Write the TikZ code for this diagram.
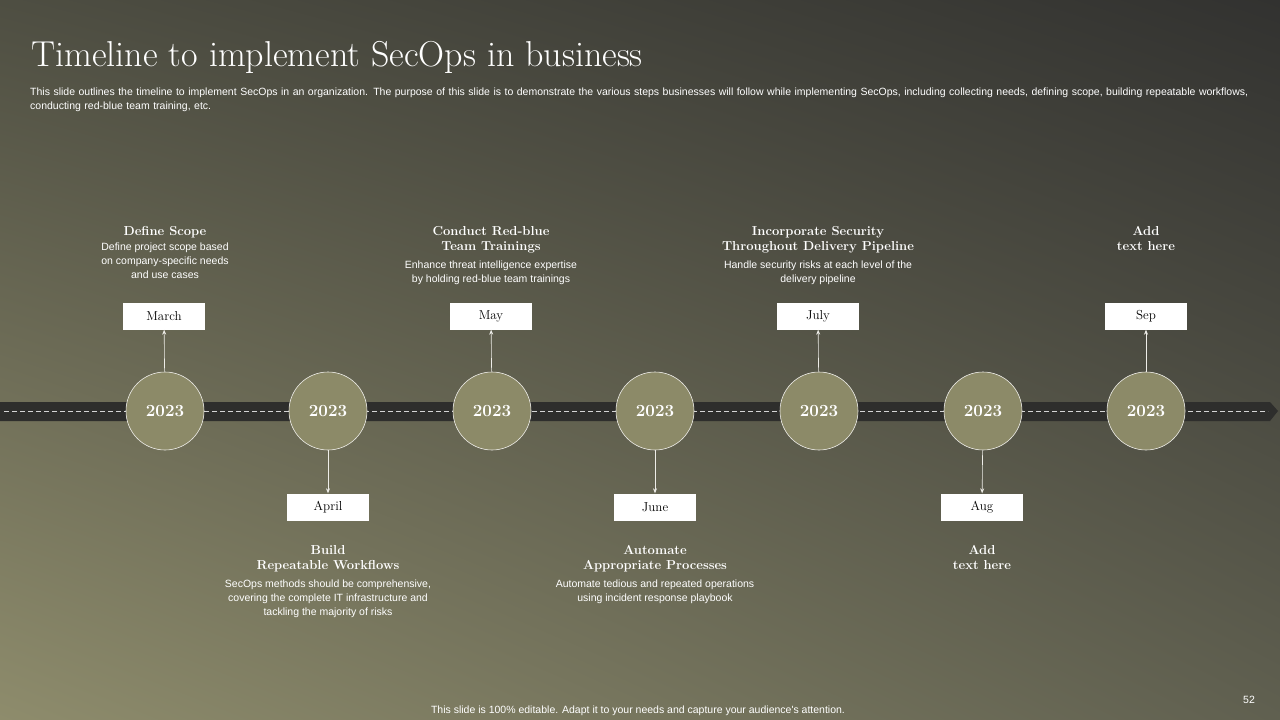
\documentclass[tikz,border=0pt]{standalone}
\usepackage{fontspec}
\newfontfamily\sans{Liberation Sans}
\usetikzlibrary{arrows.meta,shadings}
\definecolor{circ}{HTML}{8C8A68}
\definecolor{bar}{HTML}{2E2E2C}
\definecolor{bgul}{RGB}{78,78,66}
\definecolor{bgur}{RGB}{50,50,48}
\definecolor{bgll}{RGB}{142,140,108}
\definecolor{bglr}{RGB}{96,96,80}
\tikzset{
 yr/.style={circle,draw=white!85!circ,line width=0.6pt,fill=circ,minimum size=78pt,inner sep=0pt,text=white,font=\fontsize{17}{17}\selectfont\bfseries},
 mbox/.style={fill=white,minimum width=82pt,minimum height=27pt,inner sep=0pt,font=\fontsize{13}{13}\selectfont},
 head/.style={text=white,align=center,font=\fontsize{13}{15}\selectfont\bfseries},
 body/.style={text=white,align=center,font=\sans\fontsize{10.5}{14}\selectfont},
 conn/.style={draw=white!85!circ,line width=0.6pt,-{Stealth[length=5pt,width=4pt]}}
}
\begin{document}
\begin{tikzpicture}[x=1pt,y=-1pt]
\useasboundingbox (0,0) rectangle (1280,720);
\shade[upper left=bgul,upper right=bgur,lower left=bgll,lower right=bglr] (0,0) rectangle (1280,720);
\node[anchor=west,text=white,font=\fontsize{36}{36}\selectfont] (title) at (28,57) {Timeline to implement SecOps in business};
\node[anchor=north west,text=white,align=left,text width=1230pt,inner sep=0pt,font=\sans\fontsize{10.5}{14}\selectfont] (sub) at (30,88) {This slide outlines the timeline to implement SecOps in an organization. The purpose of this slide is to demonstrate the various steps businesses will follow while implementing SecOps, including collecting needs, defining scope, building repeatable workflows, conducting red-blue team training, etc.};
\fill[bar] (0,402) -- (1270,402) -- (1278,411) -- (1270,421) -- (0,421) -- cycle;
\draw[white!80!bar,dash pattern=on 5pt off 3pt,line width=0.7pt] (4,411) -- (1268,411);
\foreach \i/\x in {1/165,2/328,3/492,4/655,5/819,6/983,7/1146} {\node[yr] (c\i) at (\x,411) {2023};}
\node[mbox] (m1) at (164,316) {March};
\node[mbox] (m3) at (491,316) {May};
\node[mbox] (m5) at (818,316) {July};
\node[mbox] (m7) at (1146,316) {Sep};
\node[mbox] (m2) at (328,507) {April};
\node[mbox] (m4) at (655,507) {June};
\node[mbox] (m6) at (982,507) {Aug};
\foreach \i in {1,...,7} {\draw[conn] (c\i) -- (m\i);}
\node[head,anchor=north] (h1) at (165,223) {Define Scope};
\node[body,anchor=north] (b1) at (165,239) {Define project scope based\\on company-specific needs\\and use cases};
\node[head,anchor=north] (h3) at (491,223) {Conduct Red-blue\\Team Trainings};
\node[body,anchor=north] (b3) at (491,257) {Enhance threat intelligence expertise\\by holding red-blue team trainings};
\node[head,anchor=north] (h5) at (818,223) {Incorporate Security\\Throughout Delivery Pipeline};
\node[body,anchor=north] (b5) at (818,257) {Handle security risks at each level of the\\delivery pipeline};
\node[head,anchor=north] (h7) at (1146,223) {Add\\text here};
\node[head,anchor=north] (h2) at (328,542) {Build\\Repeatable Workflows};
\node[body,anchor=north] (b2) at (328,576) {SecOps methods should be comprehensive,\\covering the complete IT infrastructure and\\tackling the majority of risks};
\node[head,anchor=north] (h4) at (655,542) {Automate\\Appropriate Processes};
\node[body,anchor=north] (b4) at (655,576) {Automate tedious and repeated operations\\using incident response playbook};
\node[head,anchor=north] (h6) at (982,542) {Add\\text here};
\node[body] (foot) at (638,711) {This slide is 100\% editable. Adapt it to your needs and capture your audience's attention.};
\node[body] (pg) at (1249,700) {52};
\end{tikzpicture}
\end{document}
